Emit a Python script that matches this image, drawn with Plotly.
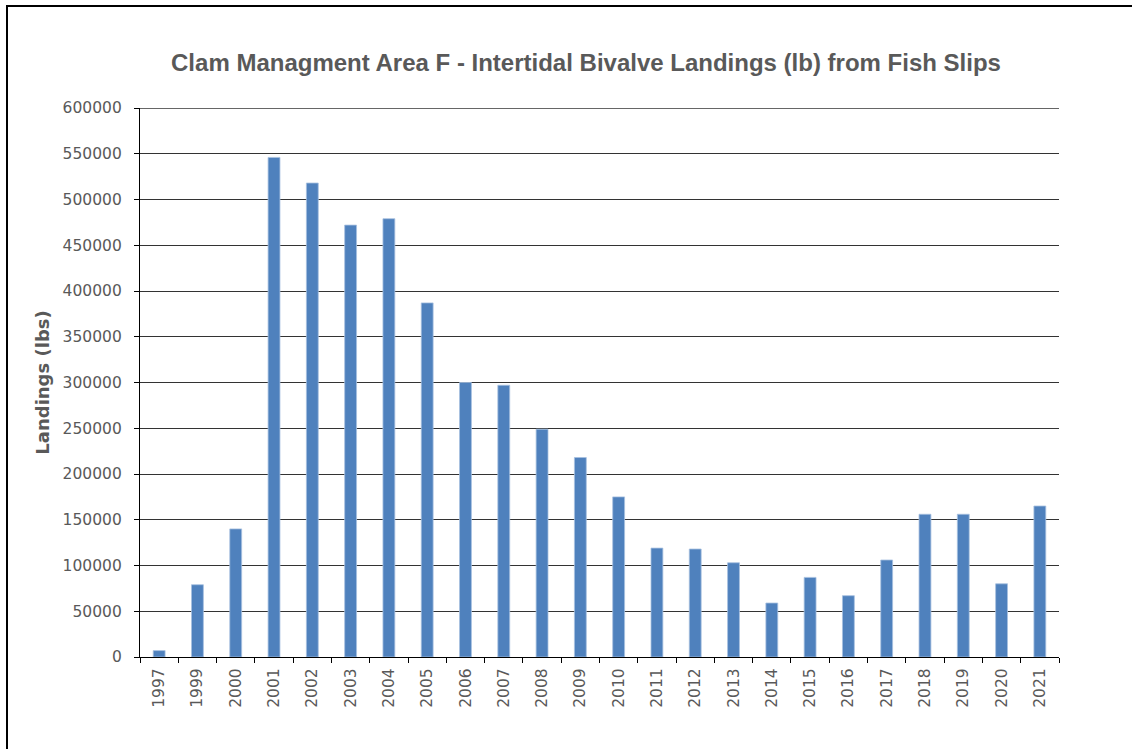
import plotly.graph_objects as go

# Landings per year (lb)
years = ["1997", "1999", "2000", "2001", "2002", "2003", "2004", "2005",
         "2006", "2007", "2008", "2009", "2010", "2011", "2012", "2013",
         "2014", "2015", "2016", "2017", "2018", "2019", "2020", "2021"]
landings = [7000, 79000, 140000, 546000, 518000, 472000, 479000, 387000,
            300000, 297000, 249000, 218000, 175000, 119000, 118000, 103000,
            59000, 87000, 67000, 106000, 156000, 156000, 80000, 165000]

y_ticks = [0, 50000, 100000, 150000, 200000, 250000,
           300000, 350000, 400000, 450000, 500000, 550000, 600000]

title_text = "Clam Managment Area F - Intertidal Bivalve Landings (lb) from Fish Slips"
y_title = "Landings (lbs)"

W, H = 1132, 749
L, R, T, B = 140, 73, 108, 92
pw, ph = W - L - R, H - T - B

fig = go.Figure(
    go.Bar(
        x=years,
        y=landings,
        marker=dict(color="#4F81BD", line=dict(color="#A7C0E0", width=0.8)),
        hoverinfo="x+y",
    )
)

tick_font = dict(family="DejaVu Sans", size=15.5, color="#595959")
grid_color = "#333333"

fig.update_layout(
    width=W,
    height=H,
    margin=dict(l=L, r=R, t=T, b=B, autoexpand=False),
    paper_bgcolor="white",
    plot_bgcolor="white",
    bargap=0.69,
    showlegend=False,
    title=dict(
        text=title_text,
        x=(586 - L) / pw * pw / W + L / W,
        xanchor="center",
        y=1 - 63 / H,
        yanchor="middle",
        font=dict(family="Liberation Sans", size=24, color="#595959", weight="bold"),
    ),
    xaxis=dict(
        type="category",
        tickangle=-90,
        tickfont=tick_font,
        ticks="outside",
        tickson="boundaries",
        ticklen=5,
        tickcolor="#000000",
        tickwidth=1.2,
        ticklabelstandoff=4,
        showline=True,
        linecolor="#000000",
        linewidth=1.3,
        showgrid=False,
        automargin=False,
    ),
    yaxis=dict(
        range=[0, 600000],
        tickvals=y_ticks,
        ticktext=[str(v) for v in y_ticks],
        tickfont=tick_font,
        ticks="outside",
        ticklen=5,
        tickcolor="#000000",
        tickwidth=1.2,
        ticklabelstandoff=9,
        showline=True,
        linecolor="#000000",
        linewidth=1.3,
        showgrid=True,
        gridcolor=grid_color,
        gridwidth=1.4,
        zeroline=False,
        automargin=False,
        title=dict(
            text=y_title,
            standoff=8,
            font=dict(family="DejaVu Sans", size=18, color="#595959", weight="bold"),
        ),
    ),
    shapes=[
        # outer frame of the chart area
        dict(
            type="rect",
            xref="paper",
            yref="paper",
            x0=(7 - L) / pw,
            x1=(W + 5 - L) / pw,
            y0=(H - B - (H + 5)) / ph,
            y1=(H - B - 6) / ph,
            line=dict(color="#000000", width=2),
            fillcolor="rgba(0,0,0,0)",
            layer="below",
        ),
        # top gridline at the upper end of the value axis
        dict(
            type="line",
            xref="paper",
            yref="y",
            x0=0,
            x1=1,
            y0=y_ticks[-1],
            y1=y_ticks[-1],
            line=dict(color=grid_color, width=1.4),
            layer="below",
        ),
    ],
)

fig.write_html("out.html")
